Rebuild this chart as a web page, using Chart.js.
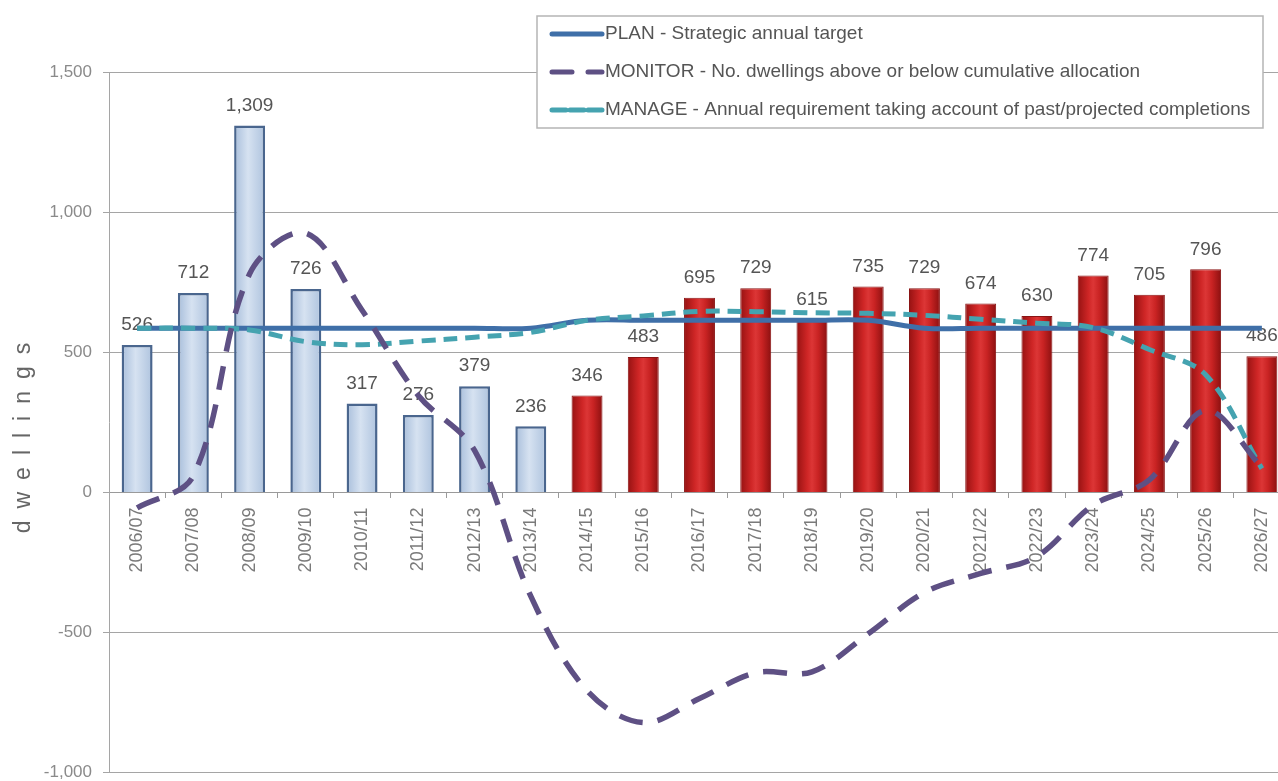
<!DOCTYPE html>
<html>
<head>
<meta charset="utf-8">
<title>Housing trajectory</title>
<script src="https://cdn.jsdelivr.net/npm/chart.js@4.4.1/dist/chart.umd.min.js"></script>
<style>
  html, body { margin: 0; padding: 0; overflow: hidden; background: #fff; }
  canvas { display: block; }
</style>
</head>
<body>
<canvas id="trajectory" width="1296" height="794"></canvas>
<script>
// financial years on the x axis
const years = ['2006/07', '2007/08', '2008/09', '2009/10', '2010/11', '2011/12', '2012/13',
  '2013/14', '2014/15', '2015/16', '2016/17', '2017/18', '2018/19', '2019/20', '2020/21',
  '2021/22', '2022/23', '2023/24', '2024/25', '2025/26', '2026/27'];

// net completions (first 8 years actual, the rest projected)
const completions = [526, 712, 1309, 726, 317, 276, 379, 236, 346, 483, 695, 729, 615, 735,
  729, 674, 630, 774, 705, 796, 486];
const actualCount = 8;

const plan = [586, 586, 586, 586, 586, 586, 586, 586, 614, 614, 614, 614, 614, 614, 586, 586,
  586, 586, 586, 586, 586];
const monitor = [-55, 60, 780, 925, 650, 346, 150, -370, -707, -821, -735, -643, -640, -504,
  -357, -289, -228, -45, 45, 293, 90];
const manage = [586, 586, 580, 538, 527, 540, 554, 571, 614, 630, 646, 645, 641, 639, 632, 618,
  604, 588, 510, 420, 85];

const yTicks = [-1000, -500, 0, 500, 1000, 1500];

const legendLabels = [
  'PLAN - Strategic annual target',
  'MONITOR - No. dwellings above or below cumulative allocation',
  'MANAGE - Annual requirement taking account of past/projected completions'
];

const NARROW = "'Liberation Sans Narrow', 'Liberation Sans', Arial, sans-serif";
const BAR_PCT = 0.55;

const PLAN_COL = '#3f6fa8';
const MONITOR_COL = '#5e5084';
const MANAGE_COL = '#45a3b0';

// cylinder-ish shading across each bar
function barFill(ctx) {
  const chart = ctx.chart;
  const xs = chart.scales && chart.scales.x;
  const actual = ctx.dataIndex < actualCount;
  if (!xs || !chart.chartArea) return actual ? '#c5d5ea' : '#c62828';
  const cx = xs.getPixelForValue(ctx.dataIndex);
  const w = xs.width / years.length * BAR_PCT;
  const g = chart.ctx.createLinearGradient(cx - w / 2, 0, cx + w / 2, 0);
  if (actual) {
    g.addColorStop(0, '#a8bedb');
    g.addColorStop(0.45, '#d6e2f1');
    g.addColorStop(1, '#aec3de');
  } else {
    g.addColorStop(0, '#961212');
    g.addColorStop(0.35, '#cf2626');
    g.addColorStop(0.5, '#dc3636');
    g.addColorStop(0.7, '#c92323');
    g.addColorStop(1, '#8c1010');
  }
  return g;
}

const extras = {
  id: 'extras',
  afterDatasetDraw(chart, args) {
    if (args.index !== 0) return;
    const c = chart.ctx;
    const meta = chart.getDatasetMeta(0);
    c.save();
    c.font = '19px ' + NARROW;
    c.fillStyle = '#555';
    c.textAlign = 'center';
    c.textBaseline = 'middle';
    meta.data.forEach((bar, i) => {
      c.fillText(completions[i].toLocaleString('en-US'), bar.x, bar.y - 20);
    });
    c.restore();
  },
  afterDraw(chart) {
    const c = chart.ctx;
    c.save();

    // y axis title
    c.translate(24, 438);
    c.rotate(-Math.PI / 2);
    c.font = '23px "Liberation Sans", Arial, sans-serif';
    c.letterSpacing = '12px';
    c.fillStyle = '#666';
    c.textAlign = 'center';
    c.textBaseline = 'middle';
    c.fillText('dwellings', 6, 0);
    c.restore();

    // legend box
    c.save();
    const bx = 537, by = 16, bw = 726, bh = 112;
    c.fillStyle = '#fff';
    c.fillRect(bx, by, bw, bh);
    c.strokeStyle = '#b5b5b5';
    c.lineWidth = 1.5;
    c.strokeRect(bx, by, bw, bh);

    const styles = [
      { color: PLAN_COL, dash: [] },
      { color: MONITOR_COL, dash: [20, 16] },
      { color: MANAGE_COL, dash: [14, 4] }
    ];
    c.font = '19px ' + NARROW;
    c.textBaseline = 'middle';
    c.textAlign = 'left';
    legendLabels.forEach((txt, i) => {
      const y = 34 + i * 38;
      c.beginPath();
      c.setLineDash(styles[i].dash);
      c.strokeStyle = styles[i].color;
      c.lineWidth = 5;
      c.lineCap = 'round';
      c.moveTo(552, y);
      c.lineTo(602, y);
      c.stroke();
      c.setLineDash([]);
      c.fillStyle = '#555';
      c.fillText(txt, 605, y);
    });
    c.restore();
  }
};

const chart = new Chart(document.getElementById('trajectory'), {
  data: {
    labels: years,
    datasets: [
      {
        type: 'bar',
        label: 'Completions',
        data: completions,
        order: 5,
        backgroundColor: barFill,
        borderColor: (ctx) => ctx.dataIndex < actualCount ? '#4a668e' : '#8a1414',
        borderWidth: (ctx) => ctx.dataIndex < actualCount ? 2.5 : 1,
        barPercentage: BAR_PCT,
        categoryPercentage: 1
      },
      {
        type: 'line',
        label: legendLabels[0],
        data: plan,
        order: 3,
        borderColor: PLAN_COL,
        borderWidth: 5,
        pointRadius: 0,
        tension: 0.35,
        fill: false
      },
      {
        type: 'line',
        label: legendLabels[2],
        data: manage,
        order: 2,
        borderColor: MANAGE_COL,
        borderWidth: 5,
        borderDash: [14, 8],
        pointRadius: 0,
        tension: 0.35,
        fill: false
      },
      {
        type: 'line',
        label: legendLabels[1],
        data: monitor,
        order: 1,
        borderColor: MONITOR_COL,
        borderWidth: 5.5,
        borderDash: [24, 15],
        pointRadius: 0,
        tension: 0.35,
        fill: false
      }
    ]
  },
  options: {
    responsive: false,
    animation: false,
    layout: { padding: { top: 72, right: 6, bottom: 9, left: 0 } },
    plugins: {
      legend: { display: false },
      tooltip: { enabled: false }
    },
    scales: {
      x: {
        type: 'category',
        position: { y: 0 },
        offset: true,
        grid: {
          offset: true,
          drawOnChartArea: false,
          drawTicks: true,
          tickLength: 5,
          color: '#9a9a9a'
        },
        border: { display: true, color: '#9a9a9a', width: 1 },
        ticks: {
          minRotation: 90,
          maxRotation: 90,
          autoSkip: false,
          padding: 10,
          color: '#7a7a7a',
          font: { family: NARROW, size: 18 }
        }
      },
      y: {
        min: yTicks[0],
        max: yTicks[yTicks.length - 1],
        afterBuildTicks: (scale) => { scale.ticks = yTicks.map((v) => ({ value: v })); },
        afterFit: (scale) => { scale.width = 109; },
        grid: {
          color: '#a5a5a5',
          lineWidth: 1,
          tickLength: 6
        },
        border: { display: true, color: '#a5a5a5' },
        ticks: {
          padding: 11,
          color: '#8a8a8a',
          font: { family: NARROW, size: 17 },
          callback: (v) => v.toLocaleString('en-US')
        }
      }
    }
  },
  plugins: [extras]
});

// second pass so the bar shading picks up the laid-out scale
chart.update();
</script>
</body>
</html>
